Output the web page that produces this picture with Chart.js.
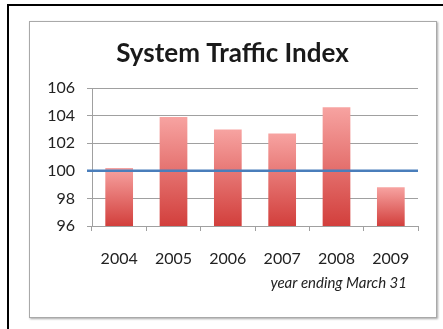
<!DOCTYPE html>
<html>
<head>
<meta charset="utf-8">
<script src="https://cdn.jsdelivr.net/npm/chart.js@4"></script>
<style>
  html, body { margin: 0; padding: 0; background: #fff; }
  #wrap { position: relative; width: 443px; height: 329px; overflow: hidden; }
  #outer { position: absolute; left: 7px; top: 4px; right: -10px; bottom: -10px;
           border-left: 2px solid #000; border-top: 2px solid #000; }
  #frame { position: absolute; left: 29px; top: 21px; width: 406px; height: 295px;
           border: 1px solid #a9a9a9; box-shadow: 1px 1px 2px rgba(0,0,0,0.35); background: #fff; }
  #holder { position: absolute; left: 0; top: 0; width: 443px; height: 329px; }
</style>
</head>
<body>
<div id="wrap">
  <div id="outer"></div>
  <div id="frame"></div>
  <div id="holder"><canvas id="chart"></canvas></div>
</div>
<script>
const years = ["2004", "2005", "2006", "2007", "2008", "2009"];
const trafficIndex = [100.2, 103.9, 103.0, 102.7, 104.6, 98.8];
const baseline = 100;
const yTicks = [96, 98, 100, 102, 104, 106];
const titleText = "System Traffic Index";
const noteText = "year ending March 31";

const FONT = "Lato, 'Liberation Sans', sans-serif";

// each bar gets its own light-top / dark-bottom gradient
function barFill(ctx) {
  const chart = ctx.chart;
  if (!chart.chartArea || ctx.dataIndex === undefined) return "#e06666";
  const y = chart.scales.y;
  const top = y.getPixelForValue(trafficIndex[ctx.dataIndex]);
  const g = chart.ctx.createLinearGradient(0, top, 0, chart.chartArea.bottom);
  g.addColorStop(0, "#f7a3a1");
  g.addColorStop(1, "#d23f3c");
  return g;
}

// blue reference line at 100, footnote, and title centred on the frame
const extras = {
  id: "extras",
  afterLayout(chart) {
    if (chart.titleBlock) {
      chart.titleBlock.left = 30;
      chart.titleBlock.right = 435;
    }
  },
  afterDatasetsDraw(chart) {
    const ctx = chart.ctx;
    const area = chart.chartArea;
    const yy = chart.scales.y.getPixelForValue(baseline);
    ctx.save();
    ctx.strokeStyle = "#4a7ebb";
    ctx.lineWidth = 2.5;
    ctx.beginPath();
    ctx.moveTo(area.left - 5, yy);
    ctx.lineTo(area.right, yy);
    ctx.stroke();
    ctx.restore();
  },
  afterDraw(chart) {
    const ctx = chart.ctx;
    const area = chart.chartArea;
    ctx.save();
    ctx.fillStyle = "#222";
    ctx.font = "italic 15px " + FONT;
    ctx.textAlign = "right";
    ctx.textBaseline = "alphabetic";
    ctx.fillText(noteText, area.right - 11, area.bottom + 62);
    ctx.restore();
  },
};

new Chart(document.getElementById("chart"), {
  type: "bar",
  data: {
    labels: years,
    datasets: [
      {
        data: trafficIndex,
        backgroundColor: barFill,
        borderWidth: 0,
        categoryPercentage: 1,
        barPercentage: 0.51,
      },
    ],
  },
  options: {
    responsive: true,
    maintainAspectRatio: false,
    animation: false,
    layout: { padding: { left: 30, right: 25, top: 0, bottom: 0 } },
    plugins: {
      legend: { display: false },
      tooltip: { enabled: false },
      title: {
        display: true,
        text: titleText,
        color: "#1a1a1a",
        font: { family: FONT, size: 26, weight: "bold" },
        padding: { top: 38.5, bottom: 18.3 },
      },
    },
    scales: {
      x: {
        afterFit(scale) { scale.height = 103; },
        grid: { offset: true, drawOnChartArea: false, tickLength: 5, color: "#a0a0a0" },
        border: { color: "#a0a0a0" },
        ticks: { color: "#222", padding: 18, font: { family: FONT, size: 16 } },
      },
      y: {
        min: yTicks[0],
        max: yTicks[yTicks.length - 1],
        afterFit(scale) { scale.width = 62; },
        afterBuildTicks(scale) { scale.ticks = yTicks.map((v) => ({ value: v })); },
        grid: { tickLength: 5, color: "#a0a0a0" },
        border: { color: "#a0a0a0" },
        ticks: { color: "#222", padding: 12, font: { family: FONT, size: 16 } },
      },
    },
  },
  plugins: [extras],
});
</script>
</body>
</html>
